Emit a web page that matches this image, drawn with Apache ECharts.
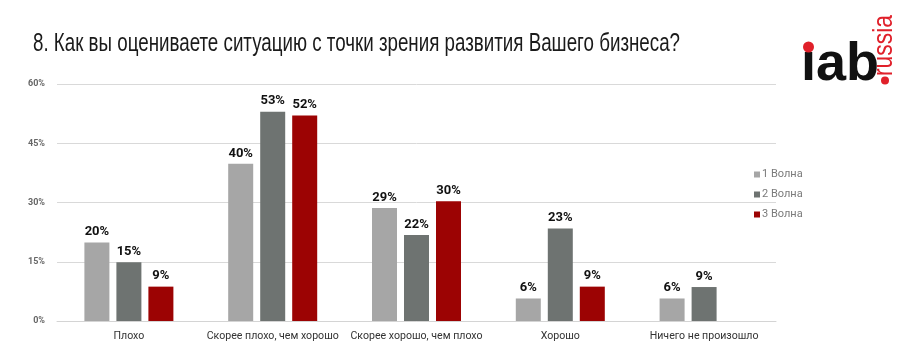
<!DOCTYPE html>
<html><head><meta charset="utf-8">
<script src="https://cdn.jsdelivr.net/npm/echarts@6/dist/echarts.min.js"></script>
<style>html,body{margin:0;padding:0;background:#fff}#c{width:911px;height:358px}</style>
</head><body><div id="c"></div>
<script>
const categories = ['Плохо', 'Скорее плохо, чем хорошо', 'Скорее хорошо, чем плохо', 'Хорошо', 'Ничего не произошло'];
const wave1 = [19.9, 39.8, 28.6, 5.7, 5.7];
const wave2 = [14.9, 53.0, 21.8, 23.4, 8.6];
const wave3 = [8.7, 52.0, 30.3, 8.7, null];
const seriesNames = ['1 Волна', '2 Волна', '3 Волна'];
const yTicks = [0, 15, 30, 45, 60];
const titleText = '8. Как вы оцениваете ситуацию с точки зрения развития Вашего бизнеса?';

const titleFont = "25px 'Liberation Sans', Arial, sans-serif";
const russiaFont = "28px 'Liberation Sans', Arial, sans-serif";
function textWidth(t, f) {
  const ctx = document.createElement('canvas').getContext('2d');
  ctx.font = f;
  return ctx.measureText(t).width;
}
const titleScale = 647 / textWidth(titleText, titleFont);
const russiaScale = 61 / textWidth('russia', russiaFont);

const lf = "Roboto, 'Liberation Sans', sans-serif";
const chart = echarts.init(document.getElementById('c'));
const label = {
  show: true, position: 'top', distance: 4,
  formatter: p => Math.round(p.value) + '%',
  fontFamily: lf, fontWeight: 'bold', fontSize: 13, color: '#111'
};
const colors = ['#a6a6a6', '#6e7371', '#9c0303'];
chart.setOption({
  animation: false,
  legend: {
    orient: 'vertical', left: 749, top: 164, itemWidth: 6, itemHeight: 6, itemGap: 9,
    icon: 'rect',
    textStyle: {fontFamily: lf, fontSize: 11, color: '#7a7a7a', padding: [0, 0, 0, -3]},
    data: seriesNames
  },
  grid: {left: 57, right: 135, top: 84, bottom: 37},
  xAxis: {
    type: 'category', data: categories,
    axisLine: {lineStyle: {color: '#d4d4d4'}},
    axisTick: {show: false},
    axisLabel: {interval: 0, fontFamily: lf, fontSize: 10.6, color: '#333', margin: 10}
  },
  yAxis: {
    type: 'value', min: yTicks[0], max: yTicks[yTicks.length - 1], interval: 15,
    axisLabel: {formatter: '{value}%', fontFamily: lf, fontWeight: 'bold', fontSize: 9, color: '#666', margin: 12},
    splitLine: {lineStyle: {color: '#d9d9d9'}},
    axisLine: {show: false}, axisTick: {show: false}
  },
  series: [wave1, wave2, wave3].map((d, i) => ({
    name: seriesNames[i], type: 'bar', data: d, barWidth: 25, barGap: '28%',
    itemStyle: {color: colors[i]}, label: label
  })),
  graphic: [
    {type: 'text', x: 33, y: 44, scaleX: titleScale,
     style: {text: titleText, font: titleFont, fill: '#1a1a1a', verticalAlign: 'middle', align: 'left'}},
    {type: 'text', x: 801, y: 38, style: {text: 'ıab', font: "bold 54px 'Liberation Sans', Arial, sans-serif", fill: '#111'}},
    {type: 'circle', shape: {cx: 808.5, cy: 47, r: 5.5}, style: {fill: '#e0202a'}},
    {type: 'text', x: 898, y: 76, rotation: Math.PI / 2, scaleX: russiaScale,
     style: {text: 'russia', font: russiaFont, fill: '#e0202a', verticalAlign: 'bottom', align: 'left'}},
    {type: 'circle', shape: {cx: 885, cy: 80.5, r: 4}, style: {fill: '#e0202a'}}
  ]
});
</script></body></html>
